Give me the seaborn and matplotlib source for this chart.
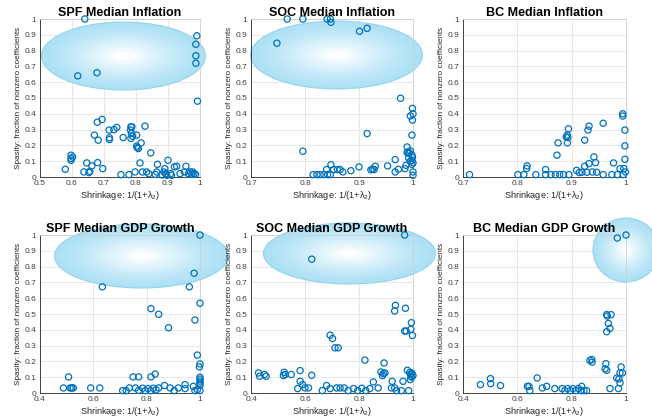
import numpy as np
import pandas as pd
import matplotlib
matplotlib.use("Agg")
import matplotlib.pyplot as plt
from matplotlib.patches import Ellipse
import seaborn as sns

# ---------------- data ----------------
titles = ["SPF Median Inflation", "SOC Median Inflation", "BC Median Inflation",
          "SPF Median GDP Growth", "SOC Median GDP Growth", "BC Median GDP Growth"]

spf_inf_x = [0.64, 0.618, 0.678, 0.99, 0.987, 0.987, 0.987, 0.992,
             0.694, 0.679, 0.67, 0.682, 0.716, 0.717, 0.717, 0.731, 0.74, 0.784, 0.787, 0.783,
             0.786, 0.789, 0.784, 0.76, 0.802, 0.828, 0.816, 0.802, 0.807, 0.804, 0.846,
             0.597, 0.597, 0.602, 0.597, 0.646, 0.68, 0.662, 0.696, 0.579, 0.637, 0.653, 0.656,
             0.753, 0.778, 0.797, 0.8125, 0.82, 0.833, 0.84, 0.867, 0.865, 0.8875, 0.89, 0.9,
             0.893, 0.908, 0.92, 0.927, 0.911, 0.9375, 0.956, 0.951, 0.964, 0.969, 0.977,
             0.981, 0.986, 0.86, 0.882, 0.896, 0.974]
spf_inf_y = [1.0, 0.64, 0.66, 0.894, 0.84, 0.767, 0.72, 0.48,
             0.364, 0.347, 0.265, 0.233, 0.297, 0.248, 0.237, 0.30, 0.314, 0.318, 0.318, 0.297,
             0.275, 0.258, 0.244, 0.25, 0.265, 0.322, 0.216, 0.195, 0.18, 0.186, 0.153,
             0.138, 0.117, 0.127, 0.106, 0.089, 0.091, 0.07, 0.053, 0.049, 0.032, 0.028, 0.036,
             0.015, 0.015, 0.032, 0.089, 0.032, 0.032, 0.021, 0.08, 0.032, 0.032, 0.053, 0.106,
             0.021, 0.021, 0.064, 0.068, 0.011, 0.021, 0.068, 0.032, 0.021, 0.032, 0.032,
             0.021, 0.017, 0.017, 0.013, 0.011, 0.017]

soc_inf_x = [0.767, 0.796, 0.841, 0.847, 0.848, 0.901, 0.915, 0.748, 0.977, 0.999, 0.995,
             1.0, 0.999, 0.915, 0.998, 0.796, 0.989, 0.991, 0.993, 0.989, 0.995, 0.998, 0.999,
             0.998, 1.0, 0.998, 0.992, 0.995, 0.967, 0.987, 0.953, 0.985, 0.967, 0.973, 0.9,
             0.922, 0.925, 0.928, 0.93, 0.848, 0.847, 0.84, 0.853, 0.86, 0.865, 0.87, 0.885,
             0.815, 0.822, 0.828, 0.835, 0.842, 1.0, 1.0]
soc_inf_y = [1.0, 1.0, 1.0, 1.0, 0.979, 0.922, 0.941, 0.847, 0.498, 0.434, 0.386, 0.40,
             0.36, 0.275, 0.265, 0.163, 0.19, 0.16, 0.15, 0.155, 0.165, 0.14, 0.125, 0.105,
             0.09, 0.08, 0.12, 0.10, 0.11, 0.074, 0.07, 0.053, 0.032, 0.049, 0.064, 0.045,
             0.05, 0.047, 0.068, 0.078, 0.015, 0.047, 0.047, 0.047, 0.047, 0.032, 0.04,
             0.015, 0.015, 0.015, 0.015, 0.015, 0.011, 0.032]

bc_inf_x = [0.712, 0.801, 0.812, 0.817, 0.818, 0.834, 0.852, 0.852, 0.862, 0.87, 0.878,
            0.885, 0.895, 0.873, 0.875, 0.89, 0.894, 0.892, 0.893, 0.892, 0.909, 0.914,
            0.924, 0.93, 0.932, 0.924, 0.932, 0.941, 0.944, 0.938, 0.958, 0.958, 0.977,
            0.974, 0.989, 0.994, 0.994, 0.998, 0.998, 0.998, 0.996, 0.999, 0.995, 0.984,
            0.919, 0.928, 0.946]
bc_inf_y = [0.015, 0.015, 0.015, 0.053, 0.07, 0.015, 0.047, 0.015, 0.015, 0.015, 0.015,
            0.015, 0.015, 0.138, 0.216, 0.254, 0.305, 0.265, 0.25, 0.216, 0.042, 0.028,
            0.233, 0.297, 0.322, 0.068, 0.085, 0.127, 0.091, 0.032, 0.34, 0.015, 0.089,
            0.015, 0.053, 0.40, 0.386, 0.297, 0.197, 0.112, 0.053, 0.032, 0.015, 0.015,
            0.03, 0.03, 0.03]

spf_gdp_x = [1.0, 0.978, 0.96, 0.634, 1.0, 0.981, 0.816, 0.845, 0.882, 0.99, 1.0, 0.998,
             1.0, 1.0, 1.0, 1.0, 1.0, 0.507, 0.488, 0.513, 0.519, 0.525, 0.59, 0.624, 0.71,
             0.723, 0.735, 0.749, 0.77, 0.758, 0.77, 0.785, 0.795, 0.805, 0.815, 0.825,
             0.835, 0.845, 0.816, 0.832, 0.867, 0.888, 0.903, 0.919, 0.944, 0.944, 0.975,
             0.981, 0.99, 1.0]
spf_gdp_y = [1.0, 0.758, 0.672, 0.672, 0.568, 0.462, 0.534, 0.498, 0.413, 0.24, 0.184,
             0.165, 0.1, 0.088, 0.075, 0.062, 0.05, 0.102, 0.032, 0.032, 0.032, 0.032, 0.032,
             0.032, 0.015, 0.015, 0.032, 0.102, 0.102, 0.032, 0.017, 0.03, 0.015, 0.028,
             0.015, 0.03, 0.02, 0.032, 0.102, 0.12, 0.047, 0.032, 0.015, 0.032, 0.053, 0.028,
             0.042, 0.015, 0.021, 0.015]

soc_gdp_x = [0.969, 0.625, 0.935, 0.932, 0.972, 0.994, 0.969, 0.975, 0.992, 0.998, 0.693,
             0.702, 0.711, 0.723, 0.822, 0.893, 0.881, 0.89, 0.887, 0.896, 0.582, 0.625,
             0.428, 0.432, 0.45, 0.456, 0.52, 0.523, 0.527, 0.549, 0.582, 0.591, 0.573,
             0.6, 0.613, 0.664, 0.68, 0.693, 0.717, 0.73, 0.745, 0.76, 0.78, 0.795, 0.81,
             0.825, 0.84, 0.853, 0.871, 0.923, 0.92, 0.932, 0.939, 0.957, 0.963, 0.979,
             0.988, 0.99, 0.993, 0.996, 1.0, 0.995, 0.984, 0.99]
soc_gdp_y = [1.0, 0.847, 0.555, 0.519, 0.536, 0.445, 0.392, 0.392, 0.403, 0.364, 0.366,
             0.345, 0.286, 0.286, 0.208, 0.19, 0.133, 0.123, 0.11, 0.127, 0.142, 0.112,
             0.127, 0.106, 0.117, 0.106, 0.11, 0.131, 0.117, 0.117, 0.074, 0.053, 0.028,
             0.032, 0.032, 0.015, 0.047, 0.028, 0.032, 0.032, 0.032, 0.015, 0.028, 0.015,
             0.03, 0.015, 0.028, 0.07, 0.032, 0.074, 0.032, 0.032, 0.015, 0.015, 0.074,
             0.144, 0.131, 0.12, 0.105, 0.125, 0.11, 0.1, 0.015, 0.085]

bc_gdp_x = [1.0, 0.968, 0.464, 0.501, 0.502, 0.538, 0.637, 0.643, 0.646, 0.673, 0.692,
            0.708, 0.738, 0.765, 0.775, 0.785, 0.795, 0.805, 0.815, 0.825, 0.835, 0.845,
            0.855, 0.837, 0.867, 0.874, 0.875, 0.929, 0.931, 0.945, 0.935, 0.941, 0.929,
            0.926, 0.923, 0.929, 0.982, 0.978, 0.987, 0.966, 0.974, 0.978, 0.941, 0.972]
bc_gdp_y = [1.0, 0.981, 0.053, 0.091, 0.059, 0.047, 0.042, 0.042, 0.015, 0.095, 0.032,
            0.042, 0.028, 0.028, 0.015, 0.028, 0.015, 0.028, 0.015, 0.028, 0.015, 0.015,
            0.015, 0.042, 0.206, 0.212, 0.195, 0.496, 0.487, 0.496, 0.44, 0.409, 0.388,
            0.186, 0.153, 0.144, 0.165, 0.127, 0.127, 0.095, 0.089, 0.064, 0.028, 0.028]

panel_x = [spf_inf_x, soc_inf_x, bc_inf_x, spf_gdp_x, soc_gdp_x, bc_gdp_x]
panel_y = [spf_inf_y, soc_inf_y, bc_inf_y, spf_gdp_y, soc_gdp_y, bc_gdp_y]

xticks_top_left = [0.5, 0.6, 0.7, 0.8, 0.9, 1.0]
xticklabels_top_left = ["0.5", "0.6", "0.7", "0.8", "0.9", "1"]
xticks_top = [0.7, 0.8, 0.9, 1.0]
xticklabels_top = ["0.7", "0.8", "0.9", "1"]
xticks_bottom = [0.4, 0.6, 0.8, 1.0]
xticklabels_bottom = ["0.4", "0.6", "0.8", "1"]
yticks = [0, 0.1, 0.2, 0.3, 0.4, 0.5, 0.6, 0.7, 0.8, 0.9, 1.0]
yticklabels = ["0", "0.1", "0.2", "0.3", "0.4", "0.5", "0.6", "0.7", "0.8", "0.9", "1"]

panel_xlim = [(0.5, 1), (0.7, 1), (0.7, 1), (0.4, 1), (0.4, 1), (0.4, 1)]
panel_xticks = [(xticks_top_left, xticklabels_top_left), (xticks_top, xticklabels_top),
                (xticks_top, xticklabels_top), (xticks_bottom, xticklabels_bottom),
                (xticks_bottom, xticklabels_bottom), (xticks_bottom, xticklabels_bottom)]

xlabel = "Shrinkage: 1/(1+$\\lambda_2$)"
ylabel = "Spasity: fraction of nonzero coefficients"

# ---------------- style ----------------
sns.set_style("white")
plt.rcParams["font.family"] = ["Liberation Sans", "DejaVu Sans"]
plt.rcParams["mathtext.fontset"] = "custom"
plt.rcParams["mathtext.rm"] = "Liberation Sans"
plt.rcParams["mathtext.it"] = "Liberation Sans"

W, H = 652, 419
fig = plt.figure(figsize=(W / 100, H / 100), dpi=100)

col_px = [(40, 200), (251, 413), (463, 626)]
row_px = [(19, 177), (235, 393)]

# highlight ellipses (pixel centre x, centre y, half-width, half-height, panel index)
highlights = [(123.5, 56, 82, 34, 0), (336.5, 55, 86, 34, 1),
              (141.5, 256, 87, 32, 3), (349.5, 253.5, 86, 30.5, 4),
              (626, 250, 33, 32, 5)]

blue = "#0072BD"
axes = []
for i in range(6):
    r, c = divmod(i, 3)
    x0, x1 = col_px[c]
    t0, b0 = row_px[r]
    ax = fig.add_axes([x0 / W, 1 - b0 / H, (x1 - x0) / W, (b0 - t0) / H])
    axes.append(ax)
    df = pd.DataFrame({"x": panel_x[i], "y": panel_y[i]})
    sns.scatterplot(data=df, x="x", y="y", ax=ax, marker="o", s=20,
                    facecolors="none", edgecolor=blue, linewidth=0.9, zorder=3,
                    clip_on=False)
    ax.set_xlim(*panel_xlim[i])
    ax.set_ylim(0, 1)
    tk, tl = panel_xticks[i]
    ax.set_xticks(tk)
    ax.set_xticklabels(tl)
    ax.set_yticks(yticks)
    ax.set_yticklabels(yticklabels)
    ax.set_axisbelow(True)
    ax.grid(True, color="#e3e3e3", linewidth=0.6)
    ax.tick_params(direction="in", length=2, width=0.5, labelsize=6,
                   colors="#262626", labelcolor="#404040")
    ax.tick_params(axis="x", pad=2.2)
    ax.tick_params(axis="y", pad=2.5)
    for s in ["left", "bottom"]:
        ax.spines[s].set_color("#262626")
        ax.spines[s].set_linewidth(0.6)
    for s in ["top", "right"]:
        ax.spines[s].set_color("#cfcfcf")
        ax.spines[s].set_linewidth(0.6)
    ax.set_title(titles[i], fontsize=9, fontweight="bold", pad=2.5, color="#000000")
    ax.set_xlabel(xlabel, fontsize=6.6, color="#262626")
    ax.xaxis.set_label_coords(0.5, -0.074)
    ax.xaxis.label.set_va("top")
    ax.set_ylabel(ylabel, fontsize=5.9, color="#262626", labelpad=2)

# draw the highlight glows
edge = np.array([0.68, 0.88, 0.96])
centre = np.array([1.0, 1.0, 1.0])
for cx, cy, a, b, idx in highlights:
    ax = axes[idx]
    ax.add_patch(Ellipse((cx / W, 1 - cy / H), 2 * a / W, 2 * b / H,
                         transform=fig.transFigure, facecolor="none",
                         edgecolor="#94d3ec", linewidth=0.8, clip_on=False, zorder=1.6))
    n = 40
    for k in range(n):
        f = 1 - k / n
        t = (1 - f) ** 1.3
        col = edge + (centre - edge) * min(1.0, t * 1.1)
        ax.add_patch(Ellipse((cx / W, 1 - cy / H), 2 * a * f / W, 2 * b * f / H,
                             transform=fig.transFigure, facecolor=col,
                             edgecolor="none", clip_on=False, zorder=1.5))

fig.savefig("out.png", dpi=100)
